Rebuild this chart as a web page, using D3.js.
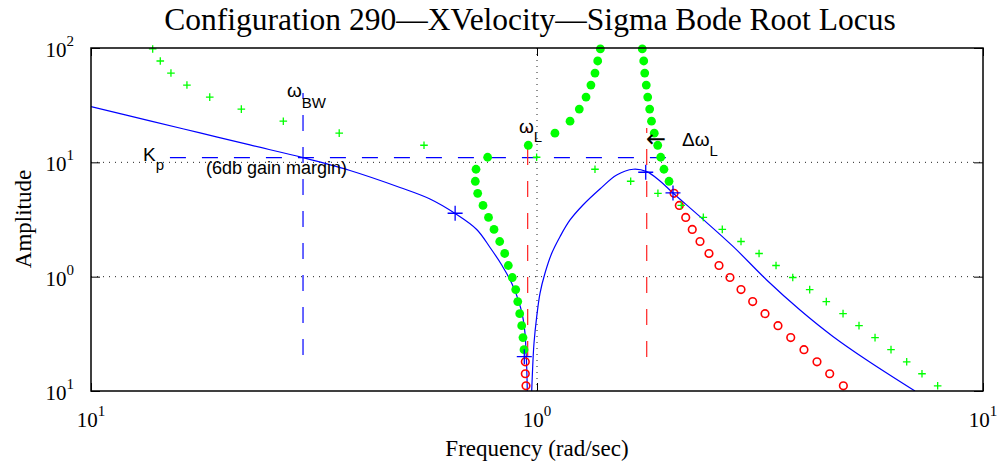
<!DOCTYPE html>
<html><head><meta charset="utf-8">
<script src="https://cdn.jsdelivr.net/npm/d3@7"></script>
<style>body{margin:0;background:#fff;} svg{display:block;}</style>
</head><body>
<svg id="c" width="1000" height="465"></svg>
<script>
// ---------- data ----------
const chartTitle = "Configuration 290\u2014XVelocity\u2014Sigma Bode Root Locus";
const xLabel = "Frequency (rad/sec)";
const yLabel = "Amplitude";
const xTicks = [0.1, 1, 10];
const xTickExp = ["1", "0", "1"];
const yTicks = [0.1, 1, 10, 100];
const yTickExp = ["1", "0", "1", "2"];
const gridX = [1];
const gridY = [1, 10];

// main Bode amplitude curve (two branches either side of the notch)
const blueLeftFreq = [0.1, 0.1356, 0.1756, 0.2272, 0.2988, 0.3808, 0.493, 0.5755, 0.6553, 0.7325, 0.7847, 0.8335, 0.8777, 0.908, 0.9288, 0.9399, 0.9448, 0.9482, 0.9512];
const blueLeftAmp  = [30.7, 23.05, 18.1, 14.19, 10.99, 8.49, 6.03, 4.78, 3.57, 2.587, 1.80, 1.266, 0.876, 0.6254, 0.4468, 0.3198, 0.2285, 0.1632, 0.1];
const blueRightFreq = [0.973, 0.978, 0.9846, 0.9985, 1.0156, 1.042, 1.079, 1.126, 1.186, 1.268, 1.384, 1.509, 1.644, 1.762, 1.887, 2.018, 2.32, 2.755, 3.273, 3.888, 4.616, 5.486, 7.039];
const blueRightAmp  = [0.1, 0.1632, 0.2616, 0.4468, 0.7159, 1.071, 1.602, 2.238, 3.133, 4.238, 5.85, 7.75, 8.70, 8.29, 6.87, 5.40, 3.348, 1.830, 0.936, 0.5114, 0.2987, 0.1868, 0.1];

// design points on the curve
const blueMarkFreq = [0.6553, 0.9365, 1.753, 2.018];
const blueMarkAmp  = [3.585, 0.1997, 8.19, 5.40];

// root locus branches
const greenPlusFreq = [0.1375, 0.1430, 0.1511, 0.1641, 0.1846, 0.2173, 0.2699, 0.3602, 0.558, 0.998, 1.349, 1.622, 1.867, 2.106, 2.360, 2.603, 2.867, 3.147, 3.435, 3.745, 4.087, 4.453, 4.855, 5.272, 5.727, 6.219, 6.744, 7.298, 7.913];
const greenPlusAmp  = [98.1, 77.0, 60.4, 47.4, 37.2, 29.2, 22.9, 18.0, 14.1, 11.08, 8.70, 6.83, 5.36, 4.20, 3.30, 2.59, 2.03, 1.595, 1.252, 0.983, 0.771, 0.605, 0.475, 0.373, 0.293, 0.230, 0.180, 0.1415, 0.111];

const redCircFreq = [0.9414, 0.9414, 0.9448, 2.029, 2.085, 2.155, 2.229, 2.320, 2.430, 2.559, 2.708, 2.867, 3.045, 3.245, 3.470, 3.706, 3.968, 4.244, 4.532, 4.863];
const redCircAmp  = [0.180, 0.1415, 0.111, 5.36, 4.20, 3.30, 2.59, 2.03, 1.595, 1.252, 0.983, 0.771, 0.605, 0.475, 0.373, 0.293, 0.230, 0.180, 0.1415, 0.111];

const greenDotLowFreq = [0.7750, 0.7299, 0.7272, 0.7362, 0.7567, 0.7785, 0.8010, 0.8249, 0.8464, 0.8624, 0.8803, 0.8959, 0.9054, 0.9146, 0.9240, 0.9302, 0.9351];
const greenDotLowAmp  = [11.08, 8.70, 6.83, 5.36, 4.20, 3.30, 2.59, 2.03, 1.595, 1.252, 0.983, 0.771, 0.605, 0.475, 0.373, 0.293, 0.230];
const greenDotUpLFreq = [0.956, 1.097, 1.186, 1.244, 1.288, 1.321, 1.349, 1.368, 1.387];
const greenDotUpLAmp  = [14.1, 18.0, 22.9, 29.2, 37.2, 47.4, 60.4, 77.0, 98.1];
const greenDotUpRFreq = [1.722, 1.735, 1.744, 1.758, 1.771, 1.789, 1.806, 1.832, 1.865, 1.894, 1.926, 1.977];
const greenDotUpRAmp  = [98.1, 77.0, 60.4, 47.4, 37.2, 29.2, 22.9, 18.0, 14.1, 11.08, 8.70, 6.83];

// reference lines
const kpAmp = 11.0, kpFreqFrom = 0.1503, kpFreqTo = 1.946;
const wBW = 0.2988, wBWFrom = 0.2065, wBWTo = 40.4;
const wL = 0.953, dwL = 1.762, redFrom = 0.1985, redTo = 20.0;

// ---------- drawing ----------
const svg = d3.select("#c");
const L = 91, R = 983, T = 48, B = 391;
const x = d3.scaleLog().domain([0.1, 10]).range([L, R]);
const y = d3.scaleLog().domain([0.1, 100]).range([B, T]);

svg.append("rect").attr("width", 1000).attr("height", 465).attr("fill", "#fff");
svg.append("defs").append("clipPath").attr("id", "clip")
  .append("rect").attr("x", L).attr("y", T).attr("width", R - L).attr("height", B - T);

// grid
const gridG = svg.append("g").attr("stroke", "#222").attr("stroke-width", 1).attr("stroke-dasharray", "1,5");
gridX.forEach(v => gridG.append("line").attr("x1", x(v)).attr("x2", x(v)).attr("y1", B).attr("y2", T));
gridY.forEach(v => gridG.append("line").attr("y1", y(v)).attr("y2", y(v)).attr("x1", L).attr("x2", R));

// dashed reference lines
svg.append("line").attr("x1", x(kpFreqFrom)).attr("x2", x(kpFreqTo)).attr("y1", y(kpAmp)).attr("y2", y(kpAmp))
  .attr("stroke", "#0000ff").attr("stroke-width", 1.2).attr("stroke-dasharray", "16,16");
svg.append("line").attr("x1", x(wBW)).attr("x2", x(wBW)).attr("y1", y(wBWFrom)).attr("y2", y(wBWTo))
  .attr("stroke", "#0000ff").attr("stroke-width", 1.2).attr("stroke-dasharray", "16,16");
[wL, dwL].forEach(v => svg.append("line").attr("x1", x(v)).attr("x2", x(v)).attr("y1", y(redFrom)).attr("y2", y(redTo))
  .attr("stroke", "#ff2020").attr("stroke-width", 1.2).attr("stroke-dasharray", "16,16"));

// blue curve
const line = d3.line().x(d => x(d[0])).y(d => y(d[1])).curve(d3.curveCatmullRom.alpha(0.5));
const cg = svg.append("g").attr("clip-path", "url(#clip)");
cg.append("path").datum(d3.zip(blueLeftFreq, blueLeftAmp)).attr("d", line)
  .attr("fill", "none").attr("stroke", "#0000ff").attr("stroke-width", 1.2);
cg.append("path").datum(d3.zip(blueRightFreq, blueRightAmp)).attr("d", line)
  .attr("fill", "none").attr("stroke", "#0000ff").attr("stroke-width", 1.2);

// red circles
svg.append("g").selectAll("circle").data(d3.zip(redCircFreq, redCircAmp)).join("circle")
  .attr("cx", d => x(d[0])).attr("cy", d => y(d[1])).attr("r", 3.8)
  .attr("fill", "none").attr("stroke", "#ff0000").attr("stroke-width", 1.6);

// green plus
const plus = s => `M${-s},0H${s}M0,${-s}V${s}`;
svg.append("g").selectAll("path").data(d3.zip(greenPlusFreq, greenPlusAmp)).join("path")
  .attr("transform", d => `translate(${x(d[0])},${y(d[1])})`).attr("d", plus(3.8))
  .attr("stroke", "#00ff00").attr("stroke-width", 1.3).attr("fill", "none");

// green dots
const dots = d3.zip(greenDotLowFreq, greenDotLowAmp)
  .concat(d3.zip(greenDotUpLFreq, greenDotUpLAmp))
  .concat(d3.zip(greenDotUpRFreq, greenDotUpRAmp));
svg.append("g").selectAll("circle").data(dots).join("circle")
  .attr("cx", d => x(d[0])).attr("cy", d => y(d[1])).attr("r", 4.4).attr("fill", "#00ff00");

// blue plus markers
svg.append("g").selectAll("path").data(d3.zip(blueMarkFreq, blueMarkAmp)).join("path")
  .attr("transform", d => `translate(${x(d[0])},${y(d[1])})`).attr("d", plus(7.5))
  .attr("stroke", "#0000ff").attr("stroke-width", 1.3).attr("fill", "none");

// axes (ticks inward on all four sides)
const axG = svg.append("g");
axG.append("g").attr("transform", `translate(0,${B})`).call(d3.axisBottom(x).tickValues(xTicks).tickSize(-8).tickFormat(""));
axG.append("g").attr("transform", `translate(0,${T})`).call(d3.axisTop(x).tickValues(xTicks).tickSize(-8).tickFormat(""));
axG.append("g").attr("transform", `translate(${L},0)`).call(d3.axisLeft(y).tickValues(yTicks).tickSize(-9).tickFormat(""));
axG.append("g").attr("transform", `translate(${R},0)`).call(d3.axisRight(y).tickValues(yTicks).tickSize(-9).tickFormat(""));
axG.selectAll(".domain").remove();
axG.selectAll(".tick line").attr("stroke", "#000").attr("stroke-width", 1);
svg.append("rect").attr("x", L).attr("y", T).attr("width", R - L).attr("height", B - T)
  .attr("fill", "none").attr("stroke", "#000").attr("stroke-width", 1.5);

// tick labels
const serif = "'Liberation Serif','Times New Roman',serif";
const sans = "'Liberation Sans',Arial,Helvetica,sans-serif";
xTicks.forEach((v, i) => {
  const t = svg.append("text").attr("x", x(v)).attr("y", 427).attr("text-anchor", "middle")
    .attr("font-family", serif).attr("font-size", 21);
  t.append("tspan").text("10");
  t.append("tspan").attr("dy", -11).attr("font-size", 15).text(xTickExp[i]);
});
yTicks.forEach((v, i) => {
  const t = svg.append("text").attr("x", 74).attr("y", y(v) + 9).attr("text-anchor", "end")
    .attr("font-family", serif).attr("font-size", 21);
  t.append("tspan").text("10");
  t.append("tspan").attr("dy", -11).attr("font-size", 15).text(yTickExp[i]);
});

// titles
svg.append("text").attr("x", 530).attr("y", 30).attr("text-anchor", "middle")
  .attr("font-family", serif).attr("font-size", 31.5).text(chartTitle);
svg.append("text").attr("x", 537).attr("y", 456).attr("text-anchor", "middle")
  .attr("font-family", serif).attr("font-size", 23).text(xLabel);
svg.append("text").attr("transform", "translate(31,219) rotate(-90)").attr("text-anchor", "middle")
  .attr("font-family", serif).attr("font-size", 23).text(yLabel);

// annotations
function ann(px, py, main, sub, mainSize, subSize, subDx, subDy, fam) {
  const t = svg.append("text").attr("x", px).attr("y", py).attr("font-family", fam || sans).attr("font-size", mainSize);
  t.append("tspan").text(main);
  if (sub) t.append("tspan").attr("dx", subDx).attr("dy", subDy).attr("font-size", subSize).text(sub);
}
ann(287, 97, "\u03c9", "BW", 19, 15, 0, 11);
ann(143, 161, "K", "p", 19, 15, 0, 9);
ann(206, 174, "(6db gain margin)", null, 18);
ann(519, 133, "\u03c9", "L", 19, 15, 0, 9);
ann(646, 147, "\u2190", null, 24, null, 0, 0, "'DejaVu Sans',sans-serif");
ann(682, 146, "\u0394\u03c9", "L", 19, 15, 0, 10);
</script>
</body></html>
